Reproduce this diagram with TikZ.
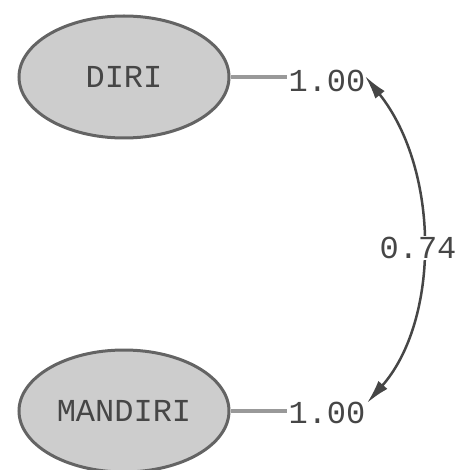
\documentclass[tikz,border=0pt]{standalone}
\usepackage{fontspec}
\setmainfont{Liberation Mono}
\usetikzlibrary{arrows.meta,shapes.geometric,positioning}
\definecolor{latfill}{RGB}{205,205,205}
\definecolor{latdraw}{RGB}{100,100,100}
\definecolor{txtgray}{RGB}{70,70,70}

\begin{document}
\begin{tikzpicture}[x=1pt,y=-1pt,
  latent/.style={ellipse,draw=latdraw,line width=3pt,fill=latfill,minimum width=210pt,minimum height=122pt,inner sep=0pt,font=\fontsize{32}{32}\selectfont,text=txtgray},
  coef/.style={font=\fontsize{32}{32}\selectfont,text=txtgray,inner sep=1pt},
  varline/.style={draw=gray!80,line width=4pt},
  covarc/.style={draw=txtgray,line width=2.5pt,{Latex[length=24pt,width=12pt]}-{Latex[length=24pt,width=12pt]}}]

\useasboundingbox (0,0) rectangle (460,470);

\node[latent] (diri) at (124,77) {DIRI};
\node[latent] (mandiri) at (124,411) {MANDIRI};

\node[coef] (vdiri) at (327,81) {1.00};
\node[coef] (vmandiri) at (327,413) {1.00};

\draw[varline] (diri.east) -- (vdiri.west |- diri.east);
\draw[varline] (mandiri.east) -- (vmandiri.west |- mandiri.east);

\coordinate (cdiri) at (365,76);
\coordinate (cmandiri) at (367,403);
\draw[covarc] (cdiri) .. controls (440,170) and (440,320) .. (cmandiri);

\node[coef,fill=white] (rho) at (418,248) {0.74};
\end{tikzpicture}
\end{document}
